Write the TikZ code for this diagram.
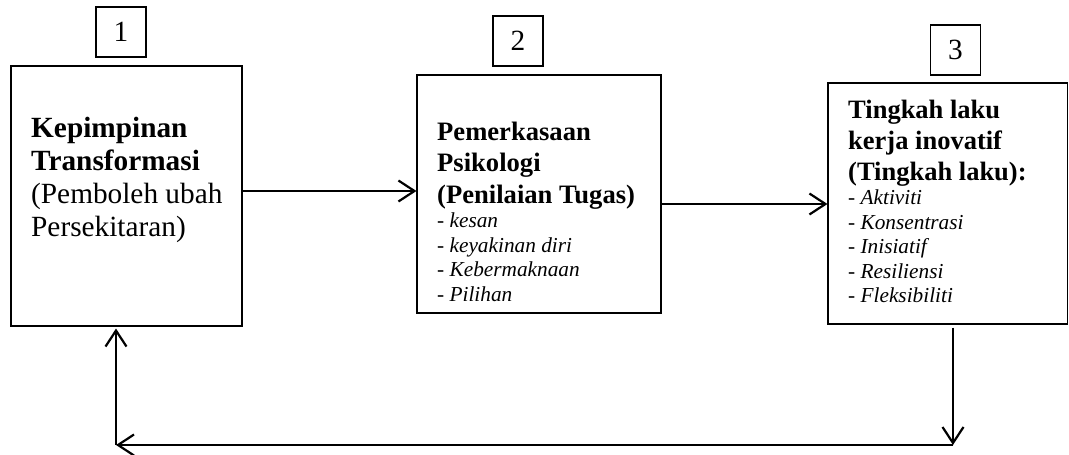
\documentclass[tikz,border=0pt]{standalone}
\usepackage{fontspec}
\setmainfont{Liberation Serif}
\usetikzlibrary{arrows.meta}
\begin{document}
\begin{tikzpicture}[x=1pt,y=-1pt,
  box/.style={draw,line width=1.1pt,rectangle,inner sep=0pt},
  numbox/.style={box,minimum width=50pt,minimum height=50pt,font=\fontsize{29.3}{33}\selectfont},
  txt/.style={anchor=base west,inner sep=0pt},
  arr/.style={line width=2.2pt,-{Straight Barb[length=16pt,width=21pt,line width=2.2pt]}}]
\useasboundingbox (0,0) rectangle (1069,455);
% main boxes
\node[box,minimum width=231pt,minimum height=260pt] (b1) at (126.5,196) {};
\node[box,minimum width=244pt,minimum height=238pt] (b2) at (539,194) {};
\node[box,minimum width=239.5pt,minimum height=241pt] (b3) at (947.75,203.5) {};
% numbers
\node[numbox] (n1) at (121,32) {1};
\node[numbox] (n2) at (518,41) {2};
\node[numbox] (n3) at (955.5,50) {3};
% texts
\node[txt] (t1) at (31,137) {\fontsize{29.3}{33}\selectfont\vtop{%
  \hbox{\bfseries Kepimpinan}\hbox{\bfseries Transformasi}%
  \hbox{(Pemboleh ubah}\hbox{Persekitaran)}}};
\node[txt] (t2) at (437,140) {\fontsize{26.6}{31.5}\selectfont\vtop{%
  \hbox{\bfseries Pemerkasaan}\hbox{\bfseries Psikologi}\hbox{\bfseries (Penilaian Tugas)}%
  \fontsize{21.3}{24.5}\selectfont
  \hbox{- \itshape kesan}\hbox{- \itshape keyakinan diri}%
  \hbox{- \itshape Kebermaknaan}\hbox{- \itshape Pilihan}}};
\node[txt] (t3) at (848,118) {\fontsize{26.5}{31}\selectfont\vtop{%
  \hbox{\bfseries Tingkah laku}\hbox{\bfseries kerja inovatif}\hbox{\bfseries (Tingkah laku):}%
  \fontsize{21.3}{24.5}\selectfont
  \hbox{- \itshape Aktiviti}\hbox{- \itshape Konsentrasi}\hbox{- \itshape Inisiatif}%
  \hbox{- \itshape Resiliensi}\hbox{- \itshape Fleksibiliti}}};
% connectors
\coordinate (p1) at ([yshift=5pt]b1.east);
\draw[arr] (p1) -- (b2.west |- p1);
\coordinate (p2) at ([yshift=-10pt]b2.east);
\draw[arr] (p2) -- (b3.west |- p2);
\coordinate (cr) at (953,445);
\coordinate (cl) at (116,445);
\draw[arr] ([xshift=5.25pt,yshift=-3pt]b3.south) -- (cr);
\draw[arr] (cr) -- (cl);
\draw[arr] (cl) -- ([xshift=-10.5pt,yshift=-2pt]b1.south);
\end{tikzpicture}
\end{document}
